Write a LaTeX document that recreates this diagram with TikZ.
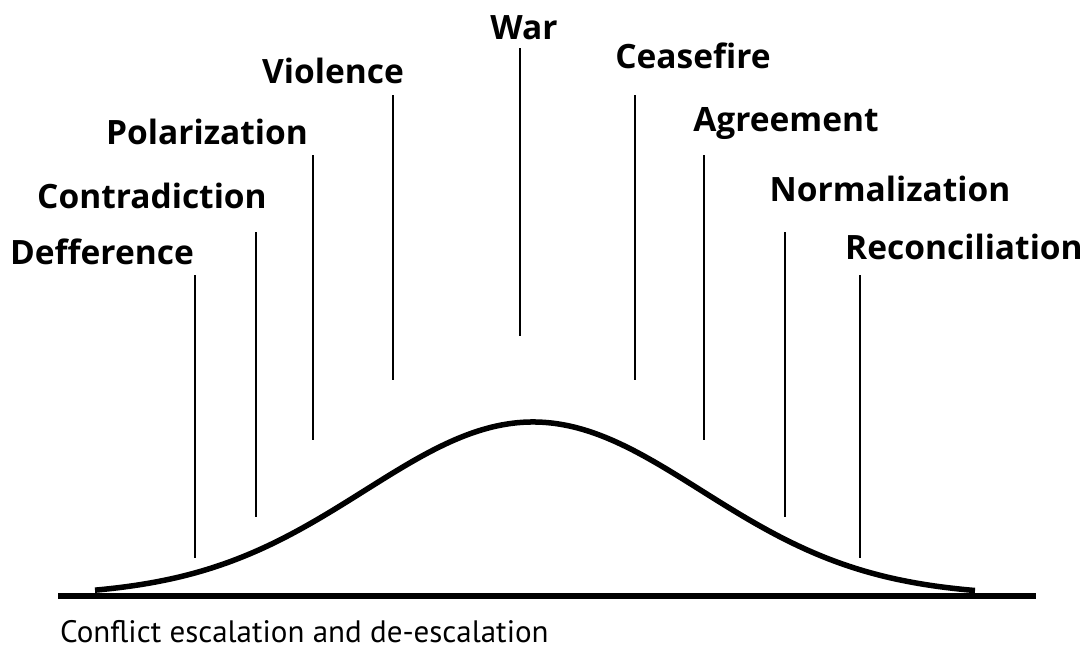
\documentclass[tikz,border=0pt]{standalone}
\usepackage{fontspec}
\setmainfont{PT Sans}
\newfontfamily\etichetta{Open Sans}
\usetikzlibrary{positioning}
\tikzset{
  fase/.style={font=\etichetta\fontsize{33.5}{33.5}\selectfont\bfseries, anchor=base, inner sep=0pt},
  tacca/.style={line width=2.2pt},
}
\begin{document}
\begin{tikzpicture}[x=1pt, y=-1pt]
\useasboundingbox (0,0) rectangle (1085,648);
% asse
\coordinate (a0) at (58,596);
\coordinate (a1) at (1036,596);
\draw[line width=5.5pt] (a0) -- (a1);

% curva
\draw[line width=5.5pt] plot[domain=95:975, samples=120, smooth]
  (\x, {596-174*exp(-((\x-533)/100)^2/5.6556)});

% tacche ed etichette
\foreach \nome/\xt/\ya/\yb/\xl/\yl in {
    Defference/195/275/558/102/264,
    Contradiction/256/232/517/152/208,
    Polarization/313/155/440/207/144,
    Violence/393/95/380/333/83,
    War/520/48/336/524/39,
    Ceasefire/635/95/380/693/68,
    Agreement/704/155/440/786/131,
    Normalization/785/232/517/890/201,
    Reconciliation/860/275/558/964/259} {
    \coordinate (t\nome) at (\xt,\ya);
    \coordinate (b\nome) at (\xt,\yb);
    \draw[tacca] (t\nome) -- (b\nome);
    \node[fase] (\nome) at (\xl,\yl) {\nome};
}

% titolo
\node[anchor=base west, inner sep=0pt, font=\fontsize{31}{31}\selectfont] (titolo)
  at (60,642) {Conflict escalation and de-escalation};
\end{tikzpicture}
\end{document}
